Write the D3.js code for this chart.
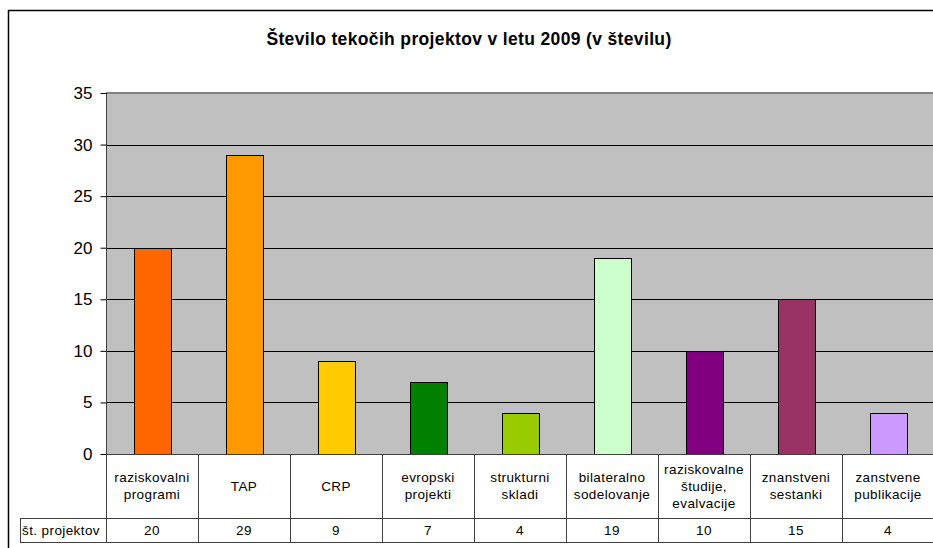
<!DOCTYPE html>
<html>
<head>
<meta charset="utf-8">
<script src="https://cdn.jsdelivr.net/npm/d3@7"></script>
<style>
  body { margin: 0; background: #fff; }
  svg { display: block; font-family: "Liberation Sans", Arial, sans-serif; }
</style>
</head>
<body>
<div id="chart"></div>
<script>
const categories = [
  "raziskovalni\nprogrami", "TAP", "CRP", "evropski\nprojekti", "strukturni\nskladi",
  "bilateralno\nsodelovanje", "raziskovalne\nštudije,\nevalvacije", "znanstveni\nsestanki",
  "zanstvene\npublikacije"
];
const values = [20, 29, 9, 7, 4, 19, 10, 15, 4];
const colors = ["#FF6600", "#FF9900", "#FFCC00", "#008000", "#99CC00",
  "#CCFFCC", "#800080", "#993366", "#CC99FF"];
const yTicks = [0, 5, 10, 15, 20, 25, 30, 35];
const rowLabel = "št. projektov";
const title = "Število tekočih projektov v letu 2009 (v številu)";

const width = 933, height = 548;
const plotLeft = 106, plotRight = 934, plotTop = 93, plotBottom = 454;
const catRowBottom = 518, valRowBottom = 542, tableLeft = 20;
const tableFont = 13.5, tableSpacing = 0.4;

const svg = d3.select("#chart").append("svg")
    .attr("width", width)
    .attr("height", height);

// outer chart border
svg.append("rect")
    .attr("x", 8.5).attr("y", 10.5)
    .attr("width", 1000).attr("height", 1000)
    .attr("fill", "#fff")
    .attr("stroke", "#000")
    .attr("stroke-width", 1.5);

svg.append("text")
    .attr("x", 469).attr("y", 45)
    .attr("text-anchor", "middle")
    .attr("font-size", 17.5)
    .attr("letter-spacing", 0.35)
    .attr("font-weight", "bold")
    .text(title);

const x = d3.scaleBand()
    .domain(d3.range(categories.length))
    .range([plotLeft, plotRight]);

const y = d3.scaleLinear()
    .domain([0, 35])
    .range([plotBottom, plotTop]);

// plot background
svg.append("rect")
    .attr("x", plotLeft).attr("y", plotTop)
    .attr("width", plotRight - plotLeft).attr("height", plotBottom - plotTop)
    .attr("fill", "#C0C0C0");

// gridlines
svg.append("g")
  .selectAll("line")
  .data(yTicks.filter(d => d > 0 && d < 35))
  .join("line")
    .attr("x1", plotLeft).attr("x2", plotRight)
    .attr("y1", d => Math.round(y(d)) + 0.5).attr("y2", d => Math.round(y(d)) + 0.5)
    .attr("stroke", "#000");

svg.append("line")
    .attr("x1", plotLeft).attr("x2", plotRight)
    .attr("y1", plotTop).attr("y2", plotTop)
    .attr("stroke", "#808080").attr("stroke-width", 2);

// bars
const barW = x.bandwidth() / 2.5;
svg.append("g")
  .selectAll("rect")
  .data(values)
  .join("rect")
    .attr("x", (d, i) => Math.round(x(i) + (x.bandwidth() - barW) / 2) + 0.5)
    .attr("y", d => Math.round(y(d)) + 0.5)
    .attr("width", Math.round(barW))
    .attr("height", d => Math.round(plotBottom - y(d)))
    .attr("fill", (d, i) => colors[i])
    .attr("stroke", "#000");

// y axis
svg.append("g")
    .attr("transform", `translate(${plotLeft + 0.5},0)`)
    .call(d3.axisLeft(y).tickValues(yTicks).tickSize(6).tickPadding(8))
    .call(g => g.select(".domain").attr("stroke", "#404040").attr("d", `M0,${plotTop}V${valRowBottom}`))
    .call(g => g.selectAll(".tick line").attr("stroke", "#000"))
    .call(g => g.selectAll(".tick text")
        .attr("font-family", "Liberation Sans, Arial, sans-serif")
        .attr("font-size", 17).attr("fill", "#000"));

// data table
const table = svg.append("g").attr("stroke", "#404040").attr("fill", "none");
table.append("line")
    .attr("x1", plotLeft).attr("x2", plotRight)
    .attr("y1", plotBottom + 0.5).attr("y2", plotBottom + 0.5);
table.append("line")
    .attr("x1", tableLeft).attr("x2", plotRight)
    .attr("y1", catRowBottom + 0.5).attr("y2", catRowBottom + 0.5);
table.append("line")
    .attr("x1", tableLeft).attr("x2", plotRight)
    .attr("y1", valRowBottom + 0.5).attr("y2", valRowBottom + 0.5);
table.append("line")
    .attr("x1", tableLeft + 0.5).attr("x2", tableLeft + 0.5)
    .attr("y1", catRowBottom).attr("y2", valRowBottom);
table.selectAll("line.sep")
  .data(d3.range(1, categories.length))
  .join("line")
    .attr("class", "sep")
    .attr("x1", i => Math.round(x(i)) + 0.5).attr("x2", i => Math.round(x(i)) + 0.5)
    .attr("y1", plotBottom).attr("y2", valRowBottom);

// category labels
const lineH = 17;
svg.append("g")
  .selectAll("text")
  .data(categories)
  .join("text")
    .attr("text-anchor", "middle")
    .attr("font-size", tableFont)
    .attr("letter-spacing", tableSpacing)
    .attr("fill", "#000")
    .each(function(d, i) {
      const lines = d.split("\n");
      const cx = x(i) + x.bandwidth() / 2;
      const y0 = (plotBottom + catRowBottom) / 2 - (lines.length - 1) * lineH / 2 + 4.5;
      d3.select(this).selectAll("tspan")
        .data(lines)
        .join("tspan")
          .attr("x", cx)
          .attr("y", (l, j) => y0 + j * lineH)
          .text(l => l);
    });

// value row
svg.append("text")
    .attr("x", tableLeft + 2).attr("y", (catRowBottom + valRowBottom) / 2 + 5)
    .attr("font-size", tableFont)
    .attr("letter-spacing", tableSpacing)
    .text(rowLabel);

svg.append("g")
  .selectAll("text")
  .data(values)
  .join("text")
    .attr("x", (d, i) => x(i) + x.bandwidth() / 2)
    .attr("y", (catRowBottom + valRowBottom) / 2 + 5)
    .attr("text-anchor", "middle")
    .attr("font-size", tableFont)
    .attr("letter-spacing", tableSpacing)
    .text(d => d);
</script>
</body>
</html>
